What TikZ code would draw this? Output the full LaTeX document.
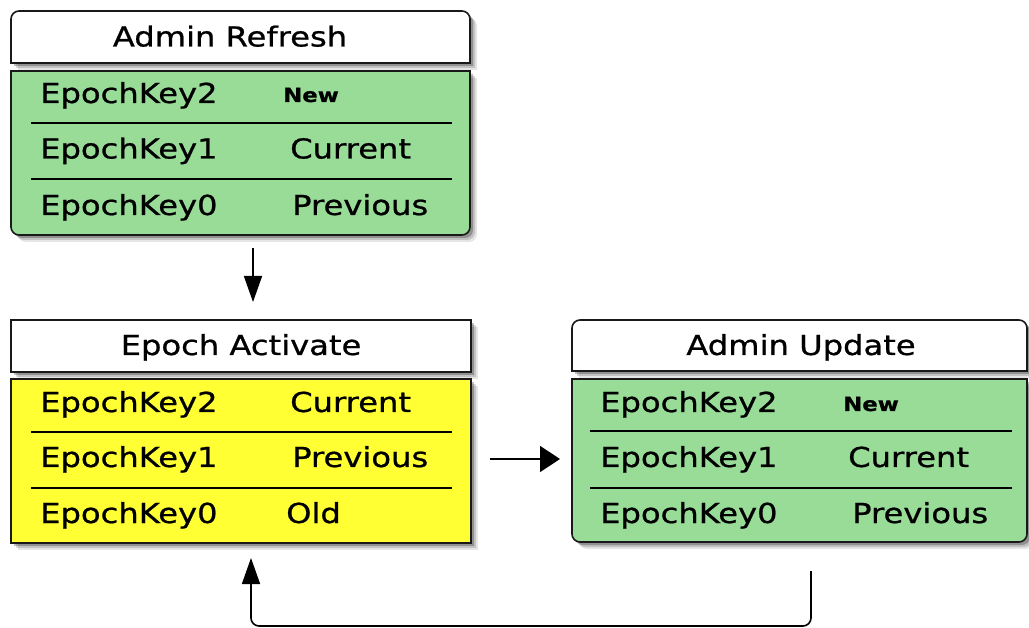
\documentclass[tikz,border=0pt]{standalone}
\usepackage{fontspec}
\setmainfont{DejaVu Sans}[FakeStretch=1.17,FakeBold=0.8]
\usetikzlibrary{arrows.meta,shadows}
\definecolor{boxgreen}{RGB}{152,220,152}
\definecolor{boxyellow}{RGB}{255,255,51}
\tikzset{
  frame/.style={draw=black!90, line width=1.6pt,
    drop shadow={shadow xshift=7pt, shadow yshift=-7pt, fill=black, opacity=0.1},
    drop shadow={shadow xshift=5pt, shadow yshift=-5pt, fill=black, opacity=0.15},
    drop shadow={shadow xshift=3pt, shadow yshift=-3pt, fill=black, opacity=0.25}},
  area/.style={inner sep=0pt, outer sep=0pt, anchor=north west},
  keytxt/.style={anchor=base west, inner sep=0pt, font=\fontsize{27.5}{33}\selectfont},
  newtxt/.style={anchor=base west, inner sep=0pt, font=\fontsize{19.5}{23}\selectfont\bfseries},
  titletxt/.style={anchor=base, inner sep=0pt, font=\fontsize{27.5}{33}\selectfont},
  sepline/.style={line width=1.3pt, draw=black},
  arr/.style={line width=1.6pt, draw=black},
  vtip/.style={-{Triangle[length=26pt,width=18pt]}},
  htip/.style={-{Triangle[length=20pt,width=26pt]}},
}
\newcommand\hdrpath[2]{%
  \path[#2] (#1.south west) -- ([yshift=-8pt]#1.north west)
    arc[start angle=180,end angle=90,radius=8pt]
    -- ([xshift=-8pt]#1.north east)
    arc[start angle=90,end angle=0,radius=8pt]
    -- (#1.south east) -- cycle;}
\newcommand\bodypath[2]{%
  \path[#2] (#1.north west) -- ([yshift=8pt]#1.south west)
    arc[start angle=180,end angle=270,radius=8pt]
    -- ([xshift=-8pt]#1.south east)
    arc[start angle=270,end angle=360,radius=8pt]
    -- (#1.north east) -- cycle;}
\begin{document}
\begin{tikzpicture}[x=1pt,y=1pt]
\useasboundingbox[fill=white] (0,0) rectangle (1029,-628);

% ---------- Admin Refresh ----------
\node[area, minimum width=459pt, minimum height=52pt] (h1) at (11,-11) {};
\node[area, minimum width=459pt, minimum height=164pt] (b1) at (11,-71) {};
\hdrpath{h1}{frame, fill=white}
\bodypath{b1}{frame, fill=boxgreen}
\draw[sepline] (31,-123) -- (452,-123);
\draw[sepline] (31,-179) -- (452,-179);
\node[titletxt] (t1) at (230,-46.5) {Admin Refresh};
\node[keytxt] (k12) at (40,-103) {EpochKey2};
\node[newtxt] (v12) at (283,-102) {New};
\node[keytxt] (k11) at (40,-158.5) {EpochKey1};
\node[keytxt] (v11) at (290,-158.5) {Current};
\node[keytxt] (k10) at (40,-215) {EpochKey0};
\node[keytxt] (v10) at (292,-215) {Previous};

% ---------- Epoch Activate ----------
\node[area, minimum width=460pt, minimum height=52pt] (h2) at (11,-320) {};
\node[area, minimum width=460pt, minimum height=164pt] (b2) at (11,-379) {};
\path[frame, fill=white] (h2.north west) rectangle (h2.south east);
\path[frame, fill=boxyellow] (b2.north west) rectangle (b2.south east);
\draw[sepline] (31,-432) -- (452,-432);
\draw[sepline] (31,-488) -- (452,-488);
\node[titletxt] (t2) at (241,-355) {Epoch Activate};
\node[keytxt] (k22) at (40,-412) {EpochKey2};
\node[keytxt] (v22) at (290,-412) {Current};
\node[keytxt] (k21) at (40,-467) {EpochKey1};
\node[keytxt] (v21) at (292,-467) {Previous};
\node[keytxt] (k20) at (40,-523) {EpochKey0};
\node[keytxt] (v20) at (286,-523) {Old};

% ---------- Admin Update ----------
\node[area, minimum width=455pt, minimum height=51pt] (h3) at (572,-320) {};
\node[area, minimum width=455pt, minimum height=163pt] (b3) at (572,-379) {};
\hdrpath{h3}{frame, fill=white}
\bodypath{b3}{frame, fill=boxgreen}
\draw[sepline] (590,-431) -- (1012,-431);
\draw[sepline] (590,-488) -- (1012,-488);
\node[titletxt] (t3) at (801,-355) {Admin Update};
\node[keytxt] (k32) at (600,-412) {EpochKey2};
\node[newtxt] (v32) at (843,-411) {New};
\node[keytxt] (k31) at (600,-467) {EpochKey1};
\node[keytxt] (v31) at (848,-467) {Current};
\node[keytxt] (k30) at (600,-523) {EpochKey0};
\node[keytxt] (v30) at (852,-523) {Previous};

% ---------- connectors ----------
\draw[arr, vtip, shorten <=13pt, shorten >=18pt]
  ([xshift=12.5pt]b1.south) -- ([xshift=12pt]h2.north);
\draw[arr, htip, shorten <=19pt, shorten >=12pt]
  ([yshift=2pt]b2.east) -- ([yshift=2pt]b3.west |- b2.east);
\draw[arr, vtip, rounded corners=8pt, shorten <=29pt, shorten >=15pt]
  ([xshift=11.5pt]b3.south) -- ++(0,-84) -| ([xshift=10pt]b2.south);
\end{tikzpicture}
\end{document}
